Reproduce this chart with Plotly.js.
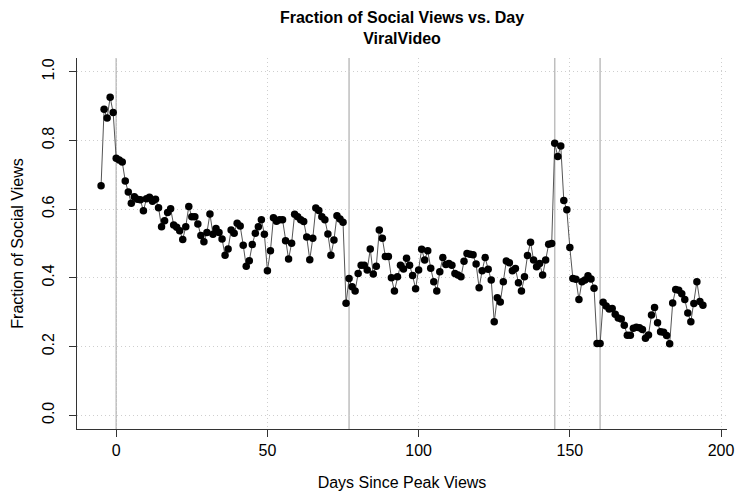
<!DOCTYPE html>
<html>
<head>
<meta charset="utf-8">
<script src="https://cdn.plot.ly/plotly-3.0.1.min.js"></script>
<style>html,body{margin:0;padding:0;background:#fff;}#chart{width:737px;height:494px;}</style>
</head>
<body>
<div id="chart"></div>
<script>
// Days since peak views
const days = [];
for (let d = -5; d <= 194; d++) days.push(d);

// Fraction of social views per day
const fraction = [
  0.668, 0.891, 0.865, 0.926, 0.881,                         // -5..-1
  0.748, 0.743, 0.737, 0.682, 0.650, 0.617, 0.636, 0.629, 0.627, 0.595, // 0..9
  0.630, 0.635, 0.623, 0.629, 0.604, 0.549, 0.566, 0.590, 0.601, 0.554, // 10..19
  0.547, 0.537, 0.512, 0.549, 0.608, 0.578, 0.578, 0.557, 0.523, 0.505, // 20..29
  0.532, 0.586, 0.527, 0.544, 0.532, 0.513, 0.466, 0.484, 0.539, 0.530, // 30..39
  0.559, 0.551, 0.495, 0.434, 0.450, 0.497, 0.530, 0.549, 0.569, 0.527, // 40..49
  0.421, 0.479, 0.575, 0.565, 0.569, 0.569, 0.508, 0.455, 0.501, 0.585, // 50..59
  0.578, 0.569, 0.564, 0.519, 0.453, 0.515, 0.603, 0.596, 0.578, 0.569, // 60..69
  0.528, 0.466, 0.510, 0.581, 0.571, 0.562, 0.326, 0.398, 0.374, 0.362, // 70..79
  0.413, 0.437, 0.437, 0.423, 0.484, 0.411, 0.434, 0.539, 0.515, 0.462, // 80..89
  0.462, 0.400, 0.362, 0.403, 0.437, 0.426, 0.457, 0.437, 0.407, 0.368, // 90..99
  0.423, 0.483, 0.452, 0.479, 0.428, 0.389, 0.362, 0.418, 0.459, 0.439, // 100..109
  0.442, 0.437, 0.413, 0.408, 0.403, 0.448, 0.471, 0.469, 0.467, 0.440, // 110..119
  0.371, 0.421, 0.459, 0.425, 0.394, 0.272, 0.342, 0.330, 0.389, 0.449, // 120..129
  0.444, 0.421, 0.427, 0.386, 0.362, 0.403, 0.465, 0.504, 0.452, 0.432, // 130..139
  0.442, 0.408, 0.452, 0.498, 0.500, 0.792, 0.753, 0.784, 0.625, 0.598, // 140..149
  0.488, 0.398, 0.396, 0.337, 0.389, 0.394, 0.406, 0.397, 0.370, 0.209, // 150..159
  0.209, 0.329, 0.318, 0.309, 0.311, 0.294, 0.283, 0.280, 0.262, 0.233, // 160..169
  0.233, 0.253, 0.256, 0.255, 0.250, 0.224, 0.234, 0.292, 0.314, 0.269, // 170..179
  0.243, 0.242, 0.232, 0.208, 0.327, 0.366, 0.364, 0.354, 0.337, 0.298, // 180..189
  0.272, 0.325, 0.389, 0.331, 0.320                                     // 190..194
];

// Event markers (vertical reference lines)
const eventDays = [0, 77, 145, 160];

const xTicks = [0, 50, 100, 150, 200];
const xTickLabels = ['0', '50', '100', '150', '200'];
const yTicks = [0.0, 0.2, 0.4, 0.6, 0.8, 1.0];
const yTickLabels = ['0.0', '0.2', '0.4', '0.6', '0.8', '1.0'];

const font = "Liberation Sans, Arial, Helvetica, sans-serif";

const traces = [
  {
    x: days, y: fraction, type: 'scatter', mode: 'lines',
    line: {color: '#555555', width: 1}, hoverinfo: 'skip', showlegend: false
  },
  {
    x: days, y: fraction, type: 'scatter', mode: 'markers',
    marker: {color: '#000000', size: 7.5, line: {width: 0}}, showlegend: false
  }
];

const shapes = eventDays.map(d => ({
  type: 'line', xref: 'x', yref: 'paper', x0: d, x1: d, y0: 0, y1: 1,
  line: {color: '#bebebe', width: 1.5}, layer: 'below'
}));

const layout = {
  width: 737, height: 494,
  margin: {l: 77, r: 10, t: 58, b: 65},
  paper_bgcolor: '#ffffff', plot_bgcolor: '#ffffff',
  font: {family: font, color: '#000000', size: 16},
  title: {
    text: '<b>Fraction of Social Views vs. Day</b><br><b>ViralVideo</b>',
    font: {family: font, size: 16, color: '#000000'},
    xref: 'paper', x: 0.5, xanchor: 'center',
    yref: 'container', y: 0.954, yanchor: 'middle'
  },
  xaxis: {
    range: [-12.96, 201.96], tickvals: xTicks, ticktext: xTickLabels,
    showgrid: true, gridcolor: '#cfcfcf', griddash: '1px,3px', gridwidth: 1,
    zeroline: false, showline: true, linecolor: '#333333', linewidth: 1,
    ticks: 'outside', ticklen: 7, tickcolor: '#333333',
    tickfont: {family: font, size: 16},
    title: {text: 'Days Since Peak Views', font: {family: font, size: 16}, standoff: 18}
  },
  yaxis: {
    range: [-0.04, 1.04], tickvals: yTicks, ticktext: yTickLabels,
    showgrid: true, gridcolor: '#cfcfcf', griddash: '1px,3px', gridwidth: 1,
    zeroline: false, showline: true, linecolor: '#333333', linewidth: 1,
    ticks: 'outside', ticklen: 7, tickcolor: '#333333', tickangle: -90,
    ticklabelstandoff: 9,
    tickfont: {family: font, size: 16},
    title: {text: 'Fraction of Social Views', font: {family: font, size: 16}, standoff: 11}
  },
  shapes: shapes
};

Plotly.newPlot('chart', traces, layout, {displayModeBar: false, staticPlot: true});
</script>
</body>
</html>
